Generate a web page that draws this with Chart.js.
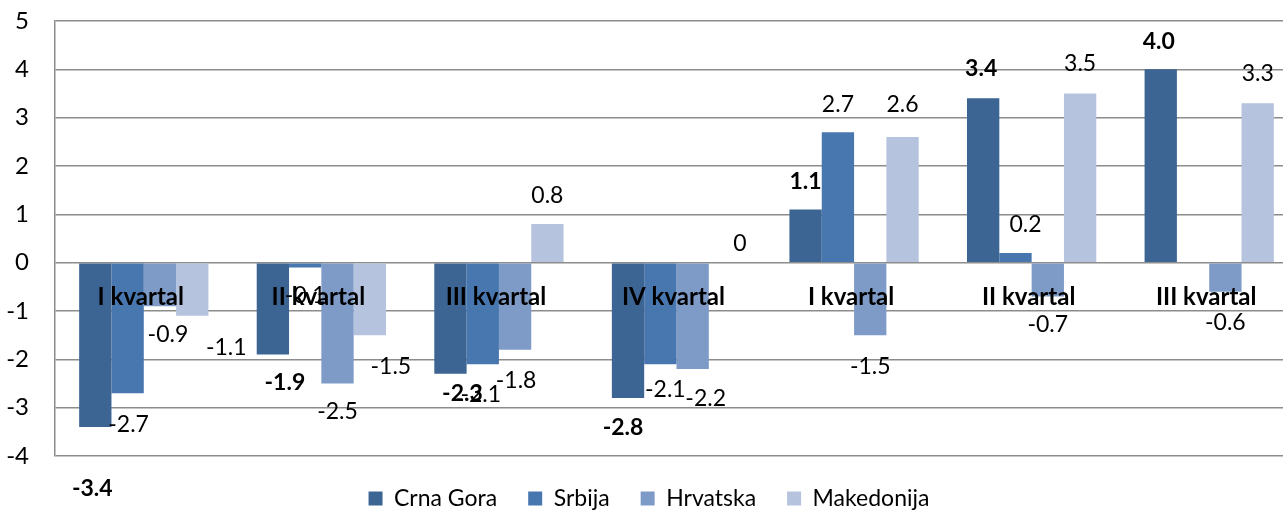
<!DOCTYPE html>
<html>
<head>
<meta charset="utf-8">
<script src="https://cdn.jsdelivr.net/npm/chart.js@4.4.1/dist/chart.umd.min.js"></script>
<style>
    html, body { margin: 0; padding: 0; background: #fff; overflow: hidden; }
    #wrap { width: 1298px; height: 512px; }
</style>
</head>
<body>
<div id="wrap"><canvas id="chart"></canvas></div>
<script>
const categories = ['I kvartal', 'II kvartal', 'III kvartal', 'IV kvartal', 'I kvartal', 'II kvartal', 'III kvartal'];
const crnaGora   = [-3.4, -1.9, -2.3, -2.8, 1.1, 3.4, 4.0];
const srbija     = [-2.7, -0.1, -2.1, -2.1, 2.7, 0.2, null];
const hrvatska   = [-0.9, -2.5, -1.8, -2.2, -1.5, -0.7, -0.6];
const makedonija = [-1.1, -1.5, 0.8, 0, 2.6, 3.5, 3.3];
const yTicks = [-4, -3, -2, -1, 0, 1, 2, 3, 4, 5];

const FONT = 'Lato, "Open Sans", sans-serif';

// hand placed label nudges (dx, dy) per series, like the moved labels in the original
const nudges = [
    [[-3, 34], [12, 0], [12, -8], [-5, 2], [0, 0], [-2, -2], [-2, 0]],
    [[1, 3], [0, 0], [-2, 2], [5, -3], [0, 0], [10, 0], [0, 0]],
    [[8, 0], [0, 0], [1, 3], [13, 2], [0, 3], [0, 0], [0, 3]],
    [[34, 4], [21, 3], [0, 0], [15, 9], [0, -4], [0, -2], [0, -2]]
];

const valueLabels = {
    id: 'valueLabels',
    afterDatasetsDraw(chart) {
        const ctx = chart.ctx;
        const yScale = chart.scales.y;
        ctx.save();
        ctx.textAlign = 'center';
        ctx.textBaseline = 'middle';
        ctx.fillStyle = '#000';
        chart.data.datasets.forEach((ds, di) => {
            const meta = chart.getDatasetMeta(di);
            ctx.font = (di === 0 ? 'bold ' : '') + '23px ' + FONT;
            meta.data.forEach((bar, i) => {
                const v = ds.data[i];
                if (v === null || v === undefined) return;
                const end = yScale.getPixelForValue(v);
                const y = v < 0 ? end + 28 : end - 28;
                const text = v === 0 ? '0' : v.toFixed(1);
                ctx.fillText(text, bar.x + nudges[di][i][0], y + nudges[di][i][1]);
            });
        });
        // category names sit just under the zero line, over the bars
        const xScale = chart.scales.x;
        const zero = yScale.getPixelForValue(0);
        ctx.font = 'bold 24px ' + FONT;
        categories.forEach((c, i) => {
            ctx.fillText(c, xScale.getPixelForValue(i) - 3, zero + 35);
        });
        ctx.restore();
    }
};

new Chart(document.getElementById('chart'), {
    type: 'bar',
    data: {
        labels: categories,
        datasets: [
            { label: 'Crna Gora', data: crnaGora, backgroundColor: '#3d6594' },
            { label: 'Srbija', data: srbija, backgroundColor: '#4877b0' },
            { label: 'Hrvatska', data: hrvatska, backgroundColor: '#7e9bc8' },
            { label: 'Makedonija', data: makedonija, backgroundColor: '#b5c3de' }
        ]
    },
    options: {
        responsive: true,
        maintainAspectRatio: false,
        animation: false,
        layout: { padding: { top: 21, left: 0, right: 0, bottom: -8 } },
        datasets: {
            bar: { barPercentage: 1, categoryPercentage: 0.728 }
        },
        scales: {
            x: { display: false },
            y: {
                min: -4,
                max: 5,
                afterBuildTicks: (axis) => { axis.ticks = yTicks.map(v => ({ value: v })); },
                afterFit: (axis) => {
                    axis.width = 55;
                    axis.paddingTop = 10;
                    axis.paddingBottom = 10;
                },
                ticks: {
                    color: '#000',
                    padding: 26,
                    font: { family: FONT, size: 24 }
                },
                grid: { color: '#8c8c8c', lineWidth: 1.5, drawTicks: false },
                border: { color: '#8c8c8c', width: 1.5 }
            }
        },
        plugins: {
            legend: {
                position: 'bottom',
                labels: {
                    color: '#000',
                    boxWidth: 14,
                    boxHeight: 14,
                    padding: 31,
                    font: { family: FONT, size: 23 }
                }
            },
            tooltip: { enabled: false }
        }
    },
    plugins: [valueLabels]
});
</script>
</body>
</html>
